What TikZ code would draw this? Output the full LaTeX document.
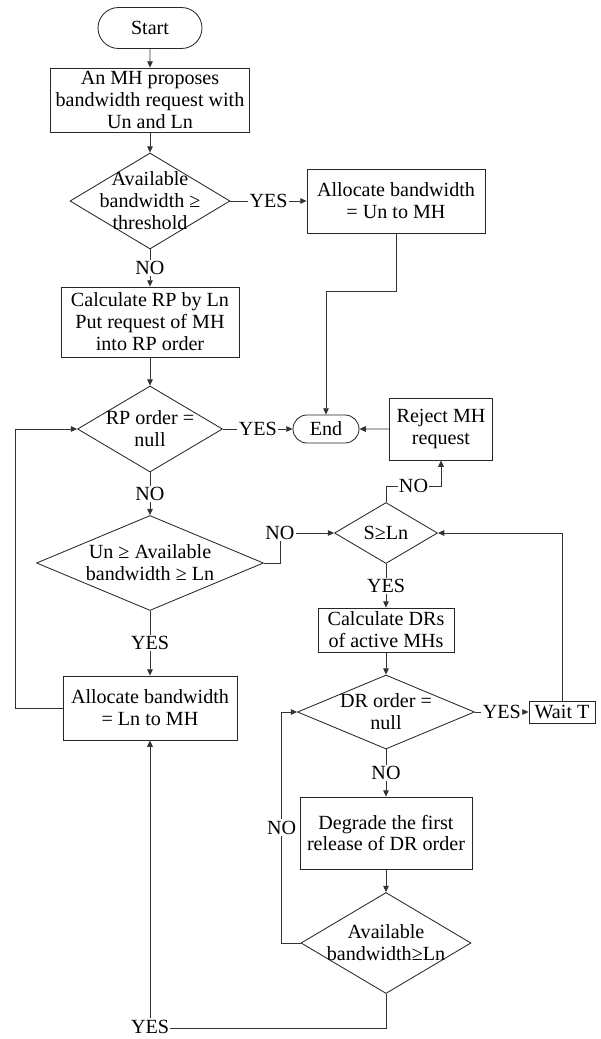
\documentclass[tikz,border=0pt]{standalone}
\usepackage{fontspec}
\setmainfont{Liberation Serif}
\usepackage{tikz}
\usetikzlibrary{arrows.meta,shapes.geometric,shapes.misc}

\begin{document}
\begin{tikzpicture}[
    font=\fontsize{14.3}{15.6}\selectfont,
    terminal/.style={
        rounded rectangle, draw=black!85, line width=0.6pt, inner sep=0pt, align=center
    },
    process/.style={
        rectangle, draw=black!85, line width=0.6pt, inner xsep=2pt, inner ysep=0pt, align=center
    },
    decision/.style={
        diamond, draw=black!85, line width=0.6pt, inner sep=-0.3cm, aspect=2, align=center
    },
    flowEdge/.style={
        -{Triangle[length=4.5pt, width=4pt]}, line width=0.6pt, draw=black!80
    },
    branchLabel/.style={
        fill=white, inner sep=1pt
    }
]
\useasboundingbox (0,0) rectangle (15,-25.975);

% Left column: admission of the request
\node[terminal, minimum width=2.6cm, minimum height=1.025cm] (start) at (3.75,-0.7) {Start};

\node[process, minimum width=4.975cm, minimum height=1.6cm] (propose) at (3.75,-2.5) {
    An MH proposes\\bandwidth request with\\Un and Ln
};

\node[decision, minimum width=4cm, minimum height=2.4cm] (avail) at (3.75,-5.025) {
    Available\\bandwidth ≥\\threshold
};

\node[process, minimum width=4.45cm, minimum height=1.6cm] (allocUn) at (9.9,-5.025) {
    Allocate bandwidth\\= Un to MH
};

\node[process, minimum width=4.45cm, minimum height=1.75cm] (calcRP) at (3.75,-8.05) {
    Calculate RP by Ln\\Put request of MH\\into RP order
};

\node[decision, minimum width=3.625cm, minimum height=2.15cm] (rpNull) at (3.75,-10.725) {
    RP order =\\null
};

\node[terminal, minimum width=1.65cm, minimum height=0.7cm] (finish) at (8.15,-10.725) {End};

\node[process, minimum width=2.575cm, minimum height=1.55cm] (reject) at (11.025,-10.725) {
    Reject MH\\request
};

\node[decision, minimum width=5.675cm, minimum height=2.375cm] (rangeChk) at (3.75,-14.075) {
    Un ≥ Available\\bandwidth ≥ Ln
};

\node[process, minimum width=4.35cm, minimum height=1.6cm] (allocLn) at (3.75,-17.7) {
    Allocate bandwidth\\= Ln to MH
};

% Right column: degrading active MHs
\node[decision, minimum width=2.575cm, minimum height=1.525cm] (spare) at (9.65,-13.325) {S≥Ln};

\node[process, minimum width=3.4cm, minimum height=1.1cm] (calcDR) at (9.65,-15.75) {
    Calculate DRs\\of active MHs
};

\node[decision, minimum width=4.425cm, minimum height=1.85cm] (drNull) at (9.65,-17.8) {
    DR order =\\null
};

\node[process, minimum width=1.65cm, minimum height=0.55cm] (waitT) at (14.05,-17.8) {Wait T};

\node[process, minimum width=4.3cm, minimum height=1.8cm] (degrade) at (9.65,-20.825) {
    Degrade the first\\release of DR order
};

\node[decision, minimum width=4.25cm, minimum height=2.525cm] (availLn) at (9.65,-23.575) {
    Available\\bandwidth≥Ln
};

% Edges of the left column
\draw[flowEdge] (start) -- (propose);
\draw[flowEdge] (propose) -- (avail);
\draw[flowEdge] (avail) -- node[branchLabel] {YES} (allocUn);
\draw[flowEdge] (avail) -- node[branchLabel] {NO} (calcRP);
\draw[flowEdge] (allocUn.south) -- ++(0,-1.45) -| (finish.north);
\draw[flowEdge] (calcRP) -- (rpNull);
\draw[flowEdge] (rpNull) -- node[branchLabel] {YES} (finish);
\draw[flowEdge] (reject) -- (finish);
\draw[flowEdge] (rpNull) -- node[branchLabel] {NO} (rangeChk);
\draw[flowEdge] (rangeChk) -- node[branchLabel] {YES} (allocLn);
\draw[flowEdge] (allocLn.west) -- ++(-1.175,0) |- (rpNull.west);

% Edges of the right column
\draw[flowEdge] (rangeChk.east) -- ++(0.4,0) |- node[branchLabel, pos=0.5] {NO} (spare.west);
\draw[flowEdge] (spare.north) -- ++(0,0.4) -| node[branchLabel, pos=0.25] {NO} (reject.south);
\draw[flowEdge] (spare) -- node[branchLabel] {YES} (calcDR);
\draw[flowEdge] (calcDR) -- (drNull);
\draw[flowEdge] (drNull) -- node[branchLabel] {YES} (waitT);
\draw[flowEdge] (waitT.north) |- (spare.east);
\draw[flowEdge] (drNull) -- node[branchLabel] {NO} (degrade);
\draw[flowEdge] (degrade) -- (availLn);
\draw[flowEdge] (availLn.west) -- ++(-0.475,0) |- node[branchLabel, pos=0.25] {NO} (drNull.west);
\draw[flowEdge] (availLn.south) -- ++(0,-0.85) -| node[branchLabel, pos=0.5, yshift=1pt] {YES} (allocLn.south);

\end{tikzpicture}
\end{document}
